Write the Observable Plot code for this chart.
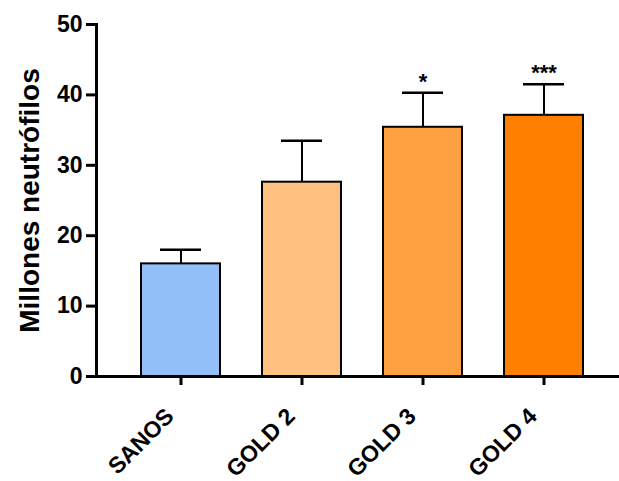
<!DOCTYPE html>
<html>
<head>
<meta charset="utf-8">
<script src="https://cdn.jsdelivr.net/npm/d3@7"></script>
<script src="https://cdn.jsdelivr.net/npm/@observablehq/plot@0.6"></script>
<style>
  html, body { margin: 0; padding: 0; background: #fff; }
</style>
</head>
<body>
<div id="chart"></div>
<script>
const categories = ["SANOS", "GOLD 2", "GOLD 3", "GOLD 4"];
const means = [16.0, 27.6, 35.4, 37.1];
const upperErrors = [18.0, 33.5, 40.3, 41.5];
const barColors = ["#93bff8", "#ffc080", "#ffa040", "#ff8000"];
const significance = ["", "", "*", "***"];
const yTicks = [0, 10, 20, 30, 40, 50];
const yLabel = "Millones neutrófilos";

const data = categories.map((c, i) => ({
  cat: c, mean: means[i], err: upperErrors[i], color: barColors[i], sig: significance[i]
}));

const font = "'Liberation Sans', Arial, sans-serif";

const chart = Plot.plot({
  width: 619,
  height: 481,
  marginLeft: 96,
  marginRight: 0,
  marginTop: 24,
  marginBottom: 105,
  style: { fontFamily: font, background: "#fff", color: "#000" },
  x: { domain: categories, range: [96, 628], paddingInner: 0.35, paddingOuter: 0.357, label: null },
  y: { domain: [0, 50], label: null },
  marks: [
    Plot.ruleX(data, { x: "cat", y1: "mean", y2: "err", stroke: "#000", strokeWidth: 2 }),
    Plot.tickY(data, { x: "cat", y: "err", stroke: "#000", strokeWidth: 2.5, insetLeft: 19, insetRight: 19 }),
    Plot.barY(data, { x: "cat", y: "mean", fill: "color", stroke: "#000", strokeWidth: 2 }),
    Plot.text(data, { x: "cat", y: "err", text: "sig", dy: -11, fontSize: 22, fontWeight: "bold", fill: "#000" }),
    Plot.axisY({ ticks: yTicks, tickSize: 10, tickPadding: 4, fontSize: 23, fontWeight: "bold", strokeWidth: 3, label: null, fill: "#000" }),
    Plot.axisX({ tickSize: 9, tickFormat: () => "", strokeWidth: 3, label: null }),
    Plot.axisX({ tickSize: 0, tickRotate: -45, tickPadding: 15, dx: -11, dy: 21, fontSize: 23, fontWeight: "bold", label: null, fill: "#000" }),
    Plot.frame({ anchor: "left", stroke: "#000", strokeWidth: 3 }),
    Plot.ruleY([0], { stroke: "#000", strokeWidth: 3 }),
    Plot.text([yLabel], { frameAnchor: "left", textAnchor: "middle", rotate: -90, dx: -66, fontSize: 28, fontWeight: "bold", fill: "#000" })
  ]
});

document.getElementById("chart").appendChild(chart);
</script>
</body>
</html>
